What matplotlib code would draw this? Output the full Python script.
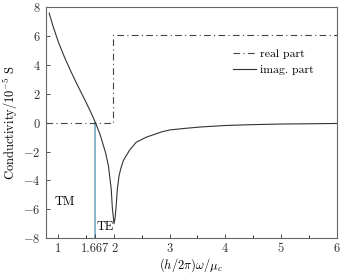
import matplotlib
matplotlib.use("Agg")
import matplotlib.pyplot as plt
import numpy as np

plt.rcParams['font.family'] = 'serif'
plt.rcParams['font.serif'] = ['cmr10']
plt.rcParams['mathtext.fontset'] = 'cm'
plt.rcParams['axes.formatter.use_mathtext'] = True

# imaginary part
x_imag = [0.835, 0.9, 1.0, 1.1, 1.2, 1.3, 1.4, 1.5, 1.6, 1.667, 1.75, 1.85, 1.9,
          1.95, 1.97, 2.0, 2.02, 2.04, 2.06, 2.09, 2.12, 2.17, 2.28, 2.4, 2.58, 2.85,
          3.0, 3.3, 3.57, 4.0, 4.5, 5.0, 5.5, 6.0]
y_imag = [7.6, 6.75, 5.6, 4.64, 3.77, 2.95, 2.17, 1.4, 0.59, 0.0, -0.82, -2.1, -3.0,
          -4.6, -5.9, -7.0, -6.6, -5.7, -4.6, -3.7, -3.2, -2.6, -1.9, -1.35, -1.0, -0.64,
          -0.5, -0.38, -0.29, -0.19, -0.13, -0.09, -0.07, -0.05]

# real part: step
x_real = [0.77, 1.98, 1.98, 6.0]
y_real = [0.0, 0.0, 6.1, 6.1]

x_ticks = [1, 1.667, 2, 3, 4, 5, 6]
x_ticklabels = ['1', '1.667', '2', '3', '4', '5', '6']
y_ticks = [-8, -6, -4, -2, 0, 2, 4, 6, 8]

fig = plt.figure(figsize=(3.4, 2.74), dpi=100)
ax = fig.add_axes([0.134, 0.131, 0.856, 0.842])

ax.plot([1.667, 1.667], [-8, 0], color='#7fb0c6', lw=1.3, zorder=1)
ax.plot(x_real, y_real, color='#444444', lw=0.8, dashes=(6, 3, 1, 3), label='real part')
ax.plot(x_imag, y_imag, color='#333333', lw=0.8, label='imag. part')

ax.set_xlim(0.77, 6)
ax.set_ylim(-8, 8)
ax.set_xticks(x_ticks)
ax.set_xticklabels(x_ticklabels)
ax.set_xticks([1.5, 2.5, 3.5, 4.5, 5.5], minor=True)
ax.set_yticks(y_ticks)
ax.tick_params(direction='in', labelsize=9, length=3, width=0.6, colors='#333333')
ax.tick_params(which='minor', direction='in', length=2, width=0.6)
for s in ax.spines.values():
    s.set_color('#666666')
    s.set_linewidth(0.8)

ax.set_xlabel(r'$(h/2\pi)\omega/\mu_c$', fontsize=9, labelpad=0.5)
ax.set_ylabel(r'Conductivity/10$^{-5}$ S', fontsize=9, labelpad=2)

ax.text(0.93, -5.5, 'TM', fontsize=9, va='center', ha='left')
ax.text(1.69, -7.25, 'TE', fontsize=9, va='center', ha='left')

ax.legend(loc='upper left', bbox_to_anchor=(0.615, 0.855), frameon=False, fontsize=8.5,
          handlelength=2.0, handletextpad=0.3, labelspacing=0.45, borderpad=0.2)

fig.savefig('out.png', dpi=100)
